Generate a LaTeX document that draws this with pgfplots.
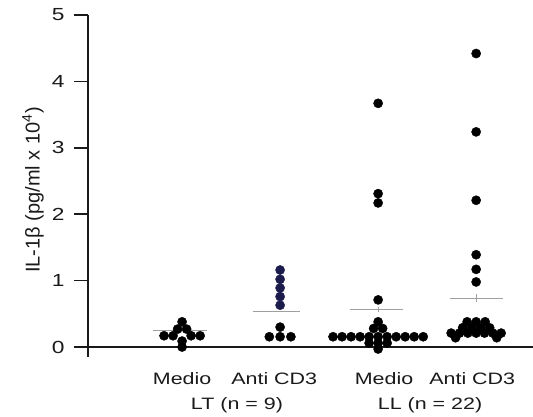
\documentclass[border=0pt]{standalone}
\usepackage{pgfplots}
\pgfplotsset{compat=1.18}
\usepackage{fontspec}
\setmainfont{Liberation Sans}[FakeStretch=1.3]
\newfontfamily\ylabfont{Liberation Sans}
\definecolor{dotnavy}{HTML}{1C1C4C}
\definecolor{axisdark}{HTML}{1A1A1A}
\begin{document}
\begin{tikzpicture}
\path[use as bounding box] (-88pt,-59pt) rectangle (445pt,357pt);
\begin{axis}[
  at={(0,0)}, anchor=south west,
  scale only axis, width=445pt, height=342pt,
  xmin=0.04, xmax=4.58, ymin=-0.15, ymax=5,
  axis x line=none,
  axis y line=left,
  y axis line style={-, line width=1.7pt, axisdark},
  ytick={0,1,2,3,4,5},
  tick align=outside,
  major tick length=14pt,
  ytick style={line width=1.5pt, axisdark},
  yticklabel style={font=\fontsize{17.5}{18}\selectfont, text=axisdark, xshift=-6pt},
  /pgf/number format/assume math mode=true,
  clip=false,
]
% x axis line
\draw[line width=1.7pt, axisdark] (axis cs:-0.07,0) -- (axis cs:4.58,0);

% mean lines
\addplot[gray!75, line width=0.8pt] coordinates {(0.703,0.245) (1.254,0.245)};
\addplot[gray!75, line width=0.8pt] coordinates {(1.723,0.53) (2.203,0.53)};
\addplot[gray!75, line width=0.8pt] coordinates {(2.713,0.57) (3.254,0.57)};
\addplot[gray!75, line width=0.8pt] coordinates {(3,0.53) (3,0.61)};
\addplot[gray!75, line width=0.8pt] coordinates {(3.733,0.74) (4.274,0.74)};
\addplot[gray!75, line width=0.8pt] coordinates {(4,0.68) (4,0.80)};

% LT Medio (n=9)
\addplot[only marks, mark=*, mark size=4.6pt, black] coordinates {
 (1,0.38) (0.954,0.27) (1.046,0.27)
 (0.816,0.17) (0.908,0.17) (1.092,0.17) (1.184,0.17)
 (1,0.09) (1,0.0)};
% LT Anti CD3 (n=9)
\addplot[only marks, mark=*, mark size=4.6pt, dotnavy] coordinates {
 (2,1.16) (2,1.02) (2,0.89) (2,0.76) (2,0.63)};
\addplot[only marks, mark=*, mark size=4.6pt, black] coordinates {
 (2,0.30) (1.89,0.155) (2,0.155) (2.11,0.155)};
% LL Medio (n=22)
\addplot[only marks, mark=*, mark size=4.6pt, black] coordinates {
 (3,3.67) (3,2.31) (3,2.17) (3,0.71)
 (3,0.38) (2.954,0.28) (3.046,0.28)
 (2.54,0.155) (2.632,0.155) (2.724,0.155) (2.816,0.155) (2.908,0.155) (3,0.155)
 (3.092,0.155) (3.184,0.155) (3.276,0.155) (3.368,0.155) (3.46,0.155)
 (2.908,0.06) (3,0.06) (3.092,0.06) (3,-0.03)};
% LL Anti CD3 (n=22)
\addplot[only marks, mark=*, mark size=4.6pt, black] coordinates {
 (4,4.42) (4,3.24) (4,2.21) (4,1.39) (4,1.17) (4,0.98)
 (3.908,0.38) (4,0.38) (4.092,0.38)
 (3.862,0.29) (3.954,0.29) (4.046,0.29) (4.138,0.29)
 (3.745,0.21) (3.83,0.21) (3.915,0.21) (4,0.21) (4.085,0.21) (4.17,0.21) (4.255,0.21)
 (3.79,0.14) (4.21,0.14)};

% category labels
\node[anchor=base, font=\fontsize{16.5}{17}\selectfont, text=axisdark] at (axis cs:1.0,-0.557) {Medio};
\node[anchor=base, font=\fontsize{16.5}{17}\selectfont, text=axisdark] at (axis cs:1.94,-0.557) {Anti CD3};
\node[anchor=base, font=\fontsize{16.5}{17}\selectfont, text=axisdark] at (axis cs:3.06,-0.557) {Medio};
\node[anchor=base, font=\fontsize{16.5}{17}\selectfont, text=axisdark] at (axis cs:3.96,-0.557) {Anti CD3};
\node[anchor=base, font=\fontsize{16.5}{17}\selectfont, text=axisdark] at (axis cs:1.56,-0.934) {LT (n = 9)};
\node[anchor=base, font=\fontsize{16.5}{17}\selectfont, text=axisdark] at (axis cs:3.53,-0.934) {LL (n = 22)};
\end{axis}
\node[rotate=90, font=\ylabfont\fontsize{20}{22}\selectfont, text=axisdark] at (-55pt,167pt) {IL-1β (pg/ml x 10\textsuperscript{4})};
\end{tikzpicture}
\end{document}
